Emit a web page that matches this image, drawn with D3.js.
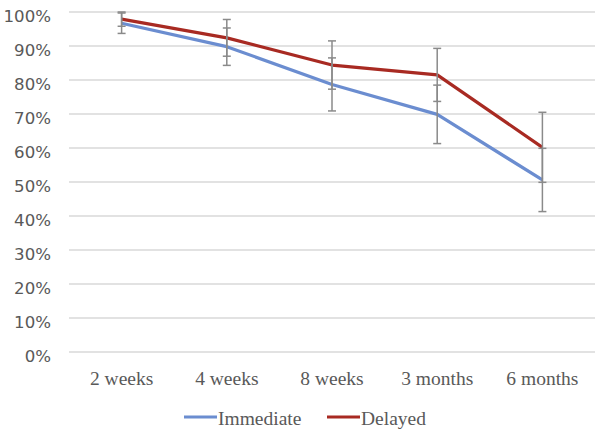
<!DOCTYPE html>
<html>
<head>
<meta charset="utf-8">
<script src="https://cdn.jsdelivr.net/npm/d3@7"></script>
<style>
  html, body { margin: 0; padding: 0; background: #fff; }
  svg { display: block; }
</style>
</head>
<body>
<svg id="chart" width="604" height="435"></svg>
<script>
const categories = ["2 weeks", "4 weeks", "8 weeks", "3 months", "6 months"];
const immediate = [96.7, 89.8, 78.7, 69.9, 50.6];
const immediateErr = [3.0, 5.5, 7.8, 8.6, 9.3];
const delayed = [97.9, 92.4, 84.4, 81.5, 60.2];
const delayedErr = [2.1, 5.4, 7.1, 7.8, 10.3];
const yTicks = [0, 10, 20, 30, 40, 50, 60, 70, 80, 90, 100];
const seriesNames = ["Immediate", "Delayed"];
const seriesColors = ["#6b8dd0", "#a82a22"];

(function () {
const svg = d3.select("#chart");
const pLeft = 69, pRight = 595, pTop = 12, pBottom = 352;

const x = d3.scaleBand().domain(categories).range([pLeft, pRight]);
const y = d3.scaleLinear().domain([0, 100]).range([pBottom, pTop]);

// gridlines
svg.append("g").selectAll("line").data(yTicks).join("line")
  .attr("x1", pLeft).attr("x2", pRight)
  .attr("y1", d => y(d)).attr("y2", d => y(d))
  .attr("stroke", "#d9d9d9").attr("stroke-width", 1.3);

// y axis labels
const yAxis = d3.axisLeft(y).tickValues(yTicks).tickFormat(d => d + "%").tickSize(0).tickPadding(0);
const gy = svg.append("g").attr("transform", "translate(51,0)").call(yAxis);
gy.select(".domain").remove();
gy.selectAll("text")
  .attr("font-family", "DejaVu Sans").attr("font-size", "16.6px")
  .attr("fill", "#595959").attr("dy", "0.6em");

// x axis labels
const xAxis = d3.axisBottom(x).tickSize(0).tickPadding(0);
const gx = svg.append("g").attr("transform", "translate(0,385)").call(xAxis);
gx.select(".domain").remove();
gx.selectAll("text")
  .attr("font-family", "Liberation Serif").attr("font-size", "19.5px")
  .attr("fill", "#595959").attr("dy", "0");

const cx = d => x(d) + x.bandwidth() / 2;
const series = [
  { vals: immediate, errs: immediateErr, color: seriesColors[0] },
  { vals: delayed, errs: delayedErr, color: seriesColors[1] }
];

const line = d3.line().x((d, i) => cx(categories[i])).y(d => y(d));

series.forEach(s => {
  svg.append("path").datum(s.vals)
    .attr("d", line).attr("fill", "none")
    .attr("stroke", s.color).attr("stroke-width", 3.2)
    .attr("stroke-linejoin", "round");
});

series.forEach(s => {
  const g = svg.append("g").attr("stroke", "#8a8a8a").attr("stroke-width", 1.5);
  s.vals.forEach((v, i) => {
    const px = cx(categories[i]);
    const hi = y(v + s.errs[i]), lo = y(v - s.errs[i]);
    g.append("line").attr("x1", px).attr("x2", px).attr("y1", hi).attr("y2", lo);
    g.append("line").attr("x1", px - 4).attr("x2", px + 4).attr("y1", hi).attr("y2", hi);
    g.append("line").attr("x1", px - 4).attr("x2", px + 4).attr("y1", lo).attr("y2", lo);
  });
});

// legend
const legendX = [184, 327];
const legend = svg.append("g");
seriesNames.forEach((n, i) => {
  legend.append("line")
    .attr("x1", legendX[i]).attr("x2", legendX[i] + 33)
    .attr("y1", 417).attr("y2", 417)
    .attr("stroke", seriesColors[i]).attr("stroke-width", 3.2);
  legend.append("text")
    .attr("x", legendX[i] + 34).attr("y", 425)
    .attr("font-family", "Liberation Serif").attr("font-size", "19.5px")
    .attr("fill", "#595959").text(n);
});
})();
</script>
</body>
</html>
